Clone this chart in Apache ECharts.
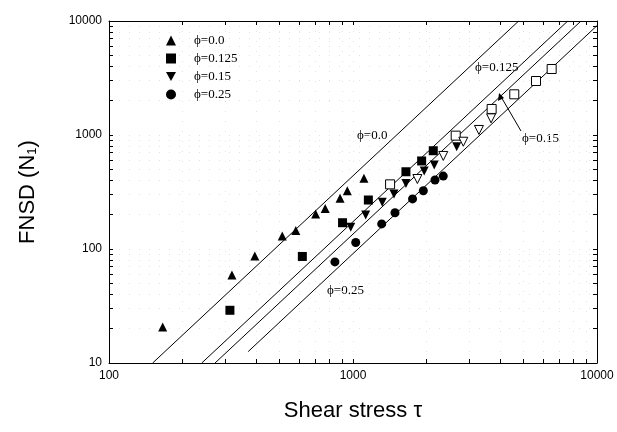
<!DOCTYPE html>
<html>
<head>
<meta charset="utf-8">
<script src="https://cdn.jsdelivr.net/npm/echarts@6/dist/echarts.min.js"></script>
<style>html,body{margin:0;padding:0;background:#fff}#c{width:617px;height:432px}</style>
</head>
<body>
<div id="c"></div>
<script>
// ---- data (shear stress tau, FNSD N1) ----
const xTickLabels = ['100', '1000', '10000'];
const yTickLabels = ['10', '100', '1000', '10000'];
const legendNames = ['ϕ=0.0', 'ϕ=0.125', 'ϕ=0.15', 'ϕ=0.25'];

const phi000 = [[166,20.7],[319,59],[396,87],[513,130],[583,145],[703,203],[769,227],[885,279],[948,324],[1109,417]];
const phi125 = [[313,29],[620,86],[906,170],[1156,269],[1648,476],[1911,592],[2133,728]];
const phi125open = [[1419,369],[2636,987],[3700,1692],[4581,2275],[5623,2977],[6519,3793]];
const phi150 = [[979,155],[1127,199],[1318,257],[1472,304],[1648,376],[1958,483],[2153,546],[2660,789]];
const phi150open = [[1836,411],[2344,655],[2832,873],[3282,1107],[3680,1400]];
const phi250 = [[843,77],[1026,114],[1311,166],[1486,208],[1754,275],[1942,324],[2168,403],[2344,436]];

// fitted lines (end points in data units)
const line000 = [[151,10],[4775,10000]];
const line125 = [[240,10],[7589,10000]];
const line150 = [[272,10],[8601,10000]];
const line250 = [[372,12.6],[10000,9105]];

function logTicks(lo, hi){
  const out = [];
  for (let d = lo; d < hi; d *= 10) for (let k = 1; k < 10; k++) out.push(d*k);
  out.push(hi);
  return out;
}

const chart = echarts.init(document.getElementById('c'), null, {renderer:'canvas'});
const serif = '"Liberation Serif","Times New Roman",serif';
const sans = '"Liberation Sans",Arial,sans-serif';
const downTri = 'path://M0,0 L10,0 L5,9 Z';

function lineSeries(d){
  return {type:'line', data:d, showSymbol:false, silent:true, z:1,
    lineStyle:{color:'#000', width:1}, animation:false};
}
function scatter(name, d, symbol, open){
  return {type:'scatter', name:name, data:d, symbol:symbol, symbolSize:9, z:3,
    itemStyle: open ? {color:'#fff', borderColor:'#000', borderWidth:1, opacity:1} : {color:'#000', opacity:1},
    animation:false};
}
function axis(min, max, extra){
  return Object.assign({
    type:'log', logBase:10, min:min, max:max,
    axisLine:{show:true, lineStyle:{color:'#000', width:1}},
    axisTick:{show:true, inside:true, length:4, customValues:logTicks(min, max), lineStyle:{color:'#000'}},
    splitLine:{show:false}
  }, extra);
}
const faintGrid = {show:true, lineStyle:{color:'#e3e3e3', type:[1,9], width:1}};

chart.setOption({
  backgroundColor:'#fff',
  animation:false,
  grid:{left:109, right:20, top:21, bottom:69, show:false},
  legend:{
    orient:'vertical', left:161, top:29, itemWidth:10, itemHeight:10, itemGap:5,
    data:[
      {name:legendNames[0], icon:'triangle'},
      {name:legendNames[1], icon:'rect'},
      {name:legendNames[2], icon:downTri},
      {name:legendNames[3], icon:'circle'}
    ],
    textStyle:{fontFamily:serif, fontSize:13, color:'#000', padding:[0,0,0,13], lineHeight:12}
  },
  xAxis:[
    axis(100, 10000, {position:'bottom', splitLine:faintGrid,
      axisLabel:{margin:7, fontFamily:sans, fontSize:12, color:'#000',
        formatter:(v)=> xTickLabels.includes(String(Math.round(v))) ? String(Math.round(v)) : ''},
      name:'Shear stress τ', nameLocation:'middle', nameGap:37,
      nameTextStyle:{fontFamily:sans, fontSize:22, color:'#000'}}),
    axis(100, 10000, {position:'top', axisLabel:{show:false}})
  ],
  yAxis:[
    axis(10, 10000, {position:'left', splitLine:faintGrid,
      axisLabel:{margin:7, fontFamily:sans, fontSize:12, color:'#000',
        formatter:(v)=> yTickLabels.includes(String(Math.round(v))) ? String(Math.round(v)) : ''},
      name:'FNSD (N{s|1})', nameLocation:'middle', nameGap:70,
      nameTextStyle:{fontFamily:sans, fontSize:22, color:'#000',
        rich:{s:{fontFamily:sans, fontSize:13, verticalAlign:'bottom', padding:[10,0,0,0]}}}}),
    axis(10, 10000, {position:'right', axisLabel:{show:false}})
  ],
  series:[
    lineSeries(line000), lineSeries(line125), lineSeries(line150), lineSeries(line250),
    scatter(legendNames[0], phi000, 'triangle', false),
    scatter(legendNames[1], phi125, 'rect', false),
    scatter(legendNames[2], phi150, downTri, false),
    scatter(legendNames[3], phi250, 'circle', false),
    scatter('open125', phi125open, 'rect', true),
    scatter('open150', phi150open, downTri, true)
  ],
  graphic:[
    {type:'text', left:357, top:129, style:{text:'ϕ=0.0', font:'13px '+serif, fill:'#000'}},
    {type:'text', left:475, top:61, style:{text:'ϕ=0.125', font:'13px '+serif, fill:'#000'}},
    {type:'text', left:522, top:132, style:{text:'ϕ=0.15', font:'13px '+serif, fill:'#000'}},
    {type:'text', left:327, top:284, style:{text:'ϕ=0.25', font:'13px '+serif, fill:'#000'}},
    {type:'line', shape:{x1:521, y1:131, x2:500, y2:95}, style:{stroke:'#000', lineWidth:1}},
    {type:'polygon', shape:{points:[[499,93],[498,101],[504,98]]}, style:{fill:'#000'}}
  ]
});
</script>
</body>
</html>
